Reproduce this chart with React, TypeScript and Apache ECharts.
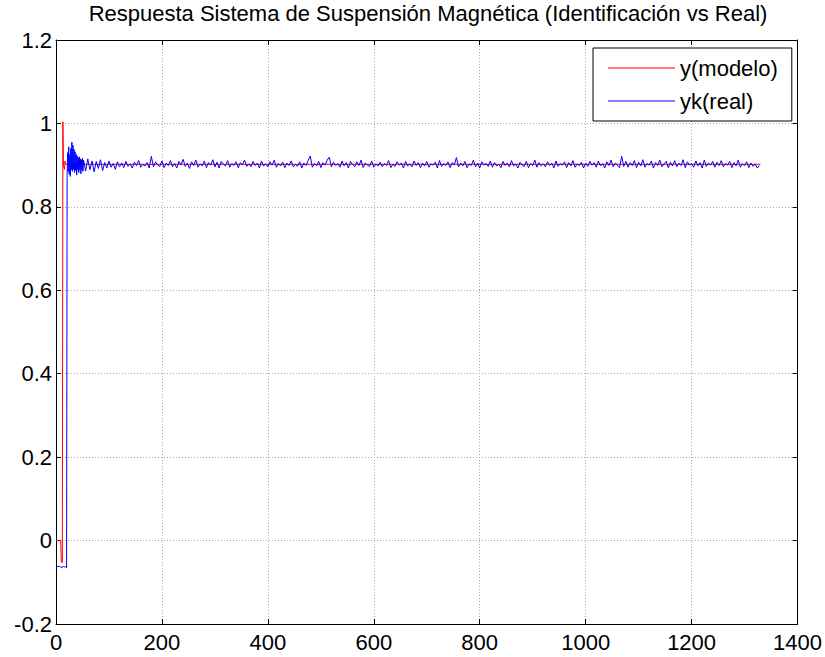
import React, { useEffect, useRef } from "react";
import * as echarts from "echarts";

const TITLE = "Respuesta Sistema de Suspensión Magnética (Identificación vs Real)";
const SERIES_NAMES = ["y(modelo)", "yk(real)"];

// y(modelo): [sample, value]
const redX = [0, 9, 10, 12, 13, 14, 16, 17, 18, 1330];
const redY = [0, 0, -0.052, -0.052, 1.004, 0.9, 0.89, 0.91, 0.902, 0.902];

// yk(real): samples 0..51 (one per sample)
const blueHead = [
  -0.062, -0.062, -0.062, -0.062, -0.062, -0.062, -0.062, -0.062, -0.062, -0.063,
  -0.064, -0.066, -0.063, -0.062, -0.062, -0.062, -0.063, -0.063, -0.063, -0.064,
  -0.065, 0.875, 0.93, 0.885, 0.944, 0.878, 0.925, 0.873, 0.94, 0.889,
  0.955, 0.885, 0.948, 0.89, 0.938, 0.882, 0.932, 0.887, 0.926, 0.876,
  0.922, 0.889, 0.918, 0.882, 0.92, 0.888, 0.915, 0.879, 0.913, 0.889,
  0.917, 0.885,
];
// yk(real): samples 52..1328, every 4th sample
const blueTailStart = 52;
const blueTailStep = 4;
const blueTail = [
  0.912, 0.886, 0.915, 0.889, 0.910, 0.884, 0.909, 0.892, 0.913, 0.887, 0.906, 0.893, 0.910, 0.895, 0.904, 0.890, 0.908, 0.896, 0.905, 0.894,
  0.909, 0.897, 0.903, 0.893, 0.907, 0.899, 0.911, 0.895, 0.902, 0.898, 0.906, 0.893, 0.921, 0.896, 0.908, 0.900, 0.897, 0.910, 0.894, 0.905,
  0.899, 0.911, 0.896, 0.904, 0.893, 0.909, 0.901, 0.914, 0.897, 0.905, 0.892, 0.908, 0.899, 0.912, 0.895, 0.903, 0.898, 0.910, 0.894, 0.906,
  0.900, 0.913, 0.896, 0.907, 0.893, 0.909, 0.902, 0.898, 0.911, 0.895, 0.904, 0.899, 0.908, 0.894, 0.906, 0.901, 0.912, 0.897, 0.903, 0.896,
  0.909, 0.899, 0.905, 0.893, 0.910, 0.898, 0.903, 0.896, 0.908, 0.900, 0.912, 0.895, 0.904, 0.898, 0.907, 0.894, 0.905, 0.899, 0.910, 0.896,
  0.902, 0.897, 0.908, 0.893, 0.905, 0.899, 0.911, 0.922, 0.895, 0.904, 0.898, 0.909, 0.894, 0.906, 0.900, 0.912, 0.919, 0.896, 0.907, 0.899,
  0.904, 0.895, 0.910, 0.898, 0.906, 0.893, 0.909, 0.901, 0.896, 0.908, 0.899, 0.912, 0.894, 0.905, 0.900, 0.897, 0.910, 0.895, 0.903, 0.898,
  0.907, 0.896, 0.904, 0.899, 0.911, 0.894, 0.902, 0.897, 0.908, 0.900, 0.905, 0.893, 0.909, 0.898, 0.903, 0.896, 0.910, 0.899, 0.906, 0.894,
  0.905, 0.898, 0.909, 0.895, 0.903, 0.900, 0.907, 0.893, 0.911, 0.897, 0.904, 0.899, 0.908, 0.894, 0.906, 0.901, 0.918, 0.896, 0.905, 0.898,
  0.909, 0.894, 0.903, 0.899, 0.912, 0.896, 0.905, 0.893, 0.908, 0.900, 0.904, 0.897, 0.910, 0.895, 0.906, 0.898, 0.902, 0.894, 0.909, 0.899,
  0.905, 0.896, 0.911, 0.898, 0.903, 0.893, 0.907, 0.900, 0.897, 0.909, 0.894, 0.904, 0.899, 0.912, 0.895, 0.906, 0.898, 0.903, 0.896, 0.908,
  0.899, 0.905, 0.893, 0.910, 0.897, 0.904, 0.900, 0.908, 0.894, 0.906, 0.898, 0.911, 0.895, 0.903, 0.899, 0.907, 0.893, 0.905, 0.897, 0.909,
  0.900, 0.906, 0.895, 0.910, 0.898, 0.904, 0.893, 0.908, 0.899, 0.912, 0.896, 0.905, 0.900, 0.894, 0.921, 0.897, 0.909, 0.895, 0.906, 0.899,
  0.911, 0.894, 0.907, 0.898, 0.913, 0.895, 0.904, 0.900, 0.910, 0.893, 0.906, 0.899, 0.912, 0.896, 0.903, 0.909, 0.894, 0.907, 0.898, 0.911,
  0.896, 0.905, 0.899, 0.913, 0.894, 0.908, 0.900, 0.904, 0.895, 0.910, 0.898, 0.906, 0.893, 0.912, 0.897, 0.905, 0.900, 0.909, 0.895, 0.907,
  0.899, 0.911, 0.896, 0.904, 0.900, 0.909, 0.894, 0.906, 0.898, 0.912, 0.895, 0.903, 0.899, 0.908, 0.894, 0.905, 0.897, 0.903, 0.893, 0.899,
];

const X_MIN = 0, X_MAX = 1400, X_INT = 200;
const Y_MIN = -0.2, Y_MAX = 1.2, Y_INT = 0.2;

const FONT = "'Liberation Sans', Arial, Helvetica, sans-serif";
const FS = 22;

export default function App() {
  const ref = useRef<HTMLDivElement>(null);
  useEffect(() => {
    document.body.style.margin = "0";
    if (!ref.current) return;
    const chart = echarts.init(ref.current, undefined, { renderer: "svg" });
    const redData = redX.map((x, i) => [x, redY[i]]);
    const blueData = [
      ...blueHead.map((v, i) => [i, v]),
      ...blueTail.map((v, i) => [blueTailStart + i * blueTailStep, v]),
    ];
    const gridLine = { show: true, lineStyle: { color: "#a8a8a8", type: [1, 2] as any, width: 1 } };
    const axisLine = { show: true, onZero: false, lineStyle: { color: "#000", width: 1 } };
    const tick = { show: true, inside: true, length: 5, lineStyle: { color: "#000" } };
    const yFmt = (v: number) => String(Math.round(v * 10) / 10);
    const xFmt = (v: number) => String(v);
    chart.setOption({
      animation: false,
      backgroundColor: "#fff",
      graphic: [
        {
          type: "text",
          x: 428,
          y: 13,
          style: {
            text: TITLE,
            fontSize: FS,
            fontFamily: FONT,
            fill: "#000",
            align: "center",
            verticalAlign: "middle",
          },
        },
      ],
      legend: {
        data: SERIES_NAMES,
        orient: "vertical",
        left: 593,
        top: 48,
        icon: "rect",
        itemWidth: 67,
        itemHeight: 1,
        itemGap: 11,
        padding: [9, 14, 9, 15],
        borderColor: "#000",
        borderWidth: 1,
        borderRadius: 0,
        backgroundColor: "#fff",
        textStyle: { fontSize: FS, fontFamily: FONT, color: "#000", lineHeight: 22 },
      },
      grid: { left: 56, right: 25, top: 40, bottom: 33, containLabel: false },
      xAxis: [
        {
          type: "value", min: X_MIN, max: X_MAX, interval: X_INT, position: "bottom",
          axisLine, axisTick: tick, splitLine: gridLine,
          axisLabel: { fontSize: FS, fontFamily: FONT, color: "#000", margin: 7, formatter: xFmt },
        },
        {
          type: "value", min: X_MIN, max: X_MAX, interval: X_INT, position: "top",
          axisLine, axisTick: tick, splitLine: { show: false }, axisLabel: { show: false },
        },
      ],
      yAxis: [
        {
          type: "value", min: Y_MIN, max: Y_MAX, interval: Y_INT, position: "left",
          axisLine, axisTick: tick, splitLine: gridLine,
          axisLabel: { fontSize: FS, fontFamily: FONT, color: "#000", margin: 4, formatter: yFmt },
        },
        {
          type: "value", min: Y_MIN, max: Y_MAX, interval: Y_INT, position: "right",
          axisLine, axisTick: tick, splitLine: { show: false }, axisLabel: { show: false },
        },
      ],
      series: [
        {
          name: SERIES_NAMES[0], type: "line", data: redData, symbol: "none",
          lineStyle: { color: "#ff0000", width: 1 }, itemStyle: { color: "#ff0000" },
          xAxisIndex: 0, yAxisIndex: 0, z: 2,
        },
        {
          name: SERIES_NAMES[1], type: "line", data: blueData, symbol: "none",
          lineStyle: { color: "#0000ff", width: 1 }, itemStyle: { color: "#0000ff" },
          xAxisIndex: 0, yAxisIndex: 0, z: 3,
        },
      ],
    });
    return () => chart.dispose();
  }, []);
  return <div ref={ref} style={{ width: 825, height: 657 }} />;
}
